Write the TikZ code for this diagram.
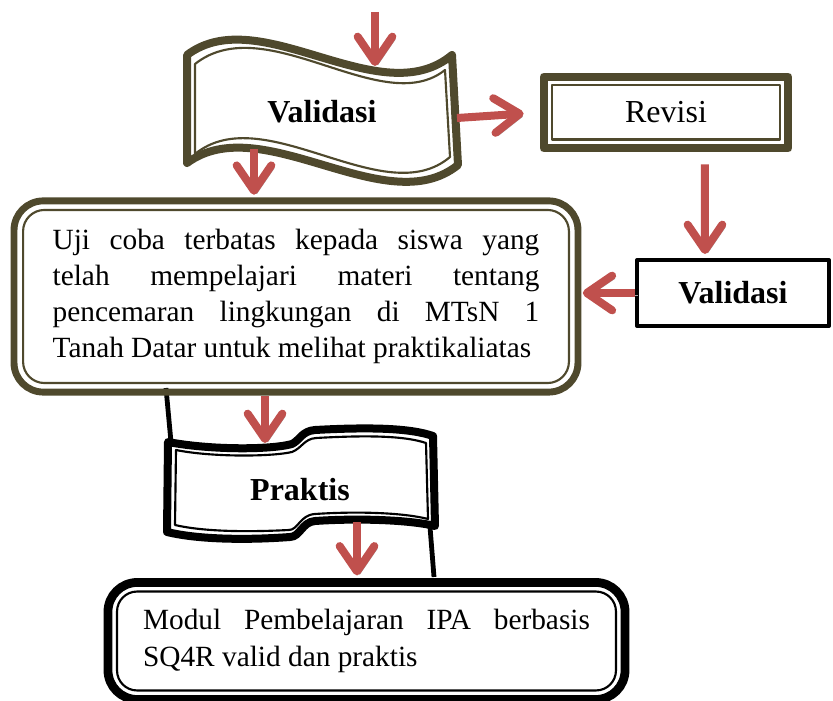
\documentclass[tikz,border=0pt]{standalone}
\usepackage{fontspec}
\setmainfont{Liberation Serif}
\usetikzlibrary{arrows.meta,fit,calc}
\definecolor{olivebrown}{RGB}{79,73,45}
\definecolor{arrowred}{RGB}{192,80,77}

\begin{document}
\begin{tikzpicture}[x=0.375pt,y=-0.375pt,line join=round,
    arr/.style={draw=arrowred,line width=3pt,-{Straight Barb[length=9.5pt,width=13pt,round]},
        preaction={draw=black!35,transform canvas={shift={(1pt,-1pt)}}}},
    frameout/.style={draw=olivebrown,line width=2.6pt},
    framein/.style={draw=olivebrown,line width=0.8pt},
    txt/.style={font=\fontsize{12}{13.4}\selectfont},
    txtb/.style={font=\fontsize{12}{13.4}\selectfont\bfseries},
    para/.style={font=\fontsize{11}{13.6}\selectfont,align=justify,
        execute at begin node={\tolerance=10000\hyphenpenalty=10000}}]

    \useasboundingbox (0,0) rectangle (833,701);

    % lines behind the Praktis banner
    \draw[line width=1.8pt] (166,388) -- (171,442);
    \draw[line width=1.8pt] (430,527) -- (434,577);

    % top banner
    \draw[frameout,line width=3pt] (187,55) .. controls (260,0) and (380,115) .. (452,55)
        -- (458,165) .. controls (386,223) and (262,108) .. (187,163) -- cycle;
    \draw[framein] (195,64) .. controls (266,8) and (382,120) .. (445,70)
        -- (450,157) .. controls (384,213) and (264,98) .. (195,154) -- cycle;
    \node[txtb] (vala) at (322,112) {Validasi};

    % Revisi
    \node[txt,framein,line width=1.1pt,minimum width=85.5pt,minimum height=20.6pt] (revisi) at (666,112.5) {Revisi};
    \node[frameout,line width=3pt,fit=(revisi),inner sep=2.6pt] (revisiframe) {};

    % second check
    \node[txtb,draw=black,line width=1.5pt,minimum width=72pt,minimum height=24.75pt] (validasib) at (733,293) {Validasi};

    % trial box
    \node[para,framein,rounded corners=8pt,text width=182.5pt,inner xsep=11.1pt,minimum height=64.9pt] (uji) at (296,296.5)
        {Uji coba terbatas kepada siswa yang\linebreak telah mempelajari materi tentang\linebreak
         pencemaran lingkungan di MTsN 1\linebreak Tanah Datar untuk melihat praktikaliatas};
    \node[frameout,rounded corners=11pt,fit=(uji),inner sep=3pt] (ujiframe) {};

    % Praktis banner
    \draw[line width=3pt] (168,442) .. controls (210,450) and (270,450) .. (292,444)
        .. controls (300,440) and (302,431) .. (315,430) .. controls (370,427) and (410,428) .. (433,436)
        -- (435,526) .. controls (410,520) and (360,518) .. (315,521)
        .. controls (302,522) and (300,537) .. (290,537) .. controls (250,540) and (200,540) .. (167,532) -- cycle;
    \draw[line width=0.8pt] (176,450) .. controls (210,457) and (270,457) .. (292,452)
        .. controls (302,448) and (304,439) .. (316,438) .. controls (370,435) and (405,436) .. (426,443)
        -- (428,519) .. controls (405,513) and (360,511) .. (315,514)
        .. controls (300,515) and (298,530) .. (289,530) .. controls (250,532) and (205,532) .. (175,525) -- cycle;
    \node[txtb] (praktis) at (300,490) {Praktis};

    % result box
    \node[para,draw=black,line width=0.8pt,rounded corners=7.5pt,text width=167.6pt,inner xsep=9.75pt,minimum height=37.1pt] (modul) at (366.5,641)
        {Modul Pembelajaran IPA berbasis\linebreak SQ4R valid dan praktis};
    \node[draw=black,line width=3.3pt,rounded corners=11pt,fit=(modul),inner sep=3pt] (modulframe) {};

    % arrow ends on the banners
    \coordinate (topin) at (375,12);
    \coordinate (vala-top) at (375,66);
    \coordinate (vala-right) at (457,118);
    \coordinate (vala-bot) at (254,149);
    \coordinate (prak-top) at (265,443);
    \coordinate (prak-bot) at (357,522);

    \draw[arr] (topin) -- (vala-top);
    \draw[arr,shorten >=6pt] (vala-right) -- (revisiframe.west);
    \draw[arr,shorten >=1pt] (vala-bot) -- (vala-bot |- ujiframe.north);
    \draw[arr,shorten <=4.5pt,shorten >=1.5pt] ([xshift=14.6pt]revisiframe.south) -- ([xshift=-10.5pt]validasib.north);
    \draw[arr,shorten >=0.5pt] (validasib.west) -- (validasib.west -| ujiframe.east);
    \draw[arr] (prak-top |- ujiframe.south) -- (prak-top);
    \draw[arr,shorten >=1pt] (prak-bot) -- (prak-bot |- modulframe.north);
\end{tikzpicture}
\end{document}
